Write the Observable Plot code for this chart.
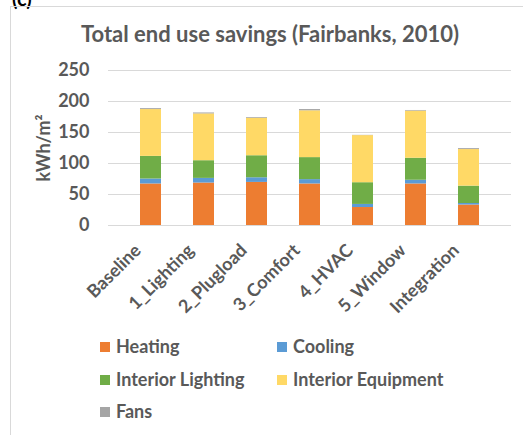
<!DOCTYPE html>
<html>
<head>
<meta charset="utf-8">
<script src="https://cdn.jsdelivr.net/npm/d3@7"></script>
<script src="https://cdn.jsdelivr.net/npm/@observablehq/plot@0.6"></script>
<style>
  html, body { margin: 0; padding: 0; background: #fff; width: 523px; height: 435px; overflow: hidden; }
  body { position: relative; font-family: Lato, "Open Sans", sans-serif; color: #595959; }
  #panel { position: absolute; left: 10px; top: 6px; width: 530px; height: 440px;
           border-left: 1px solid #d9d9d9; border-top: 1px solid #d9d9d9; box-sizing: border-box; }
  #tag { position: absolute; left: 12px; top: -14px; font-size: 20px; font-weight: bold; color: #000; }
  #title { position: absolute; left: 10px; width: 520px; top: 20px; text-align: center;
           font-size: 22px; font-weight: bold; white-space: nowrap; }
  #chart { position: absolute; left: 0; top: 50px; }
  .leg { position: absolute; font-size: 18px; font-weight: bold; white-space: nowrap; line-height: 20px; }
  .sw { display: inline-block; width: 10px; height: 10px; margin-right: 6px; vertical-align: 1px; }
</style>
</head>
<body>
<div id="tag">(c)</div>
<div id="panel"></div>
<div id="title">Total end use savings (Fairbanks, 2010)</div>
<div id="chart"></div>
<div id="legend"></div>
<script>
const categories = ["Baseline", "1_Lighting", "2_Plugload", "3_Comfort", "4_HVAC", "5_Window", "Integration"];
const series = ["Heating", "Cooling", "Interior Lighting", "Interior Equipment", "Fans"];
const colors = ["#ED7D31", "#5B9BD5", "#70AD47", "#FFD966", "#A5A5A5"];
const heating = [67, 68.5, 69.5, 67, 29, 67, 33];
const cooling = [8, 7.5, 7.5, 7, 5, 6, 2.5];
const interiorLighting = [36.5, 28.5, 35.5, 35.5, 35, 35.5, 28];
const interiorEquipment = [75.5, 75.5, 60.5, 75.5, 76, 76, 59];
const fans = [1.5, 1.5, 1.2, 2, 0.4, 1, 1.5];
const yTicks = [0, 50, 100, 150, 200, 250];

const valuesBySeries = [heating, cooling, interiorLighting, interiorEquipment, fans];
const data = [];
series.forEach((s, si) => categories.forEach((c, ci) => data.push({category: c, series: s, value: valuesBySeries[si][ci]})));

const plot = Plot.plot({
  width: 523,
  height: 280,
  marginTop: 20,
  marginBottom: 105,
  marginLeft: 108,
  marginRight: 12,
  style: {fontFamily: "Lato, sans-serif", fontSize: "18px", fontWeight: "bold", color: "#595959", background: "transparent"},
  x: {domain: categories, padding: 0.6},
  y: {domain: [0, 250]},
  color: {domain: series, range: colors},
  marks: [
    Plot.ruleY(yTicks, {stroke: "#d9d9d9", strokeWidth: 1}),
    Plot.barY(data, {x: "category", y: "value", fill: "series", order: series}),
    Plot.axisY({ticks: yTicks, tickSize: 0, tickPadding: 19, label: "kWh/m²", labelAnchor: "center", labelArrow: "none", labelOffset: 71, fill: "#595959", fontSize: "18px"}),
    Plot.axisX({tickSize: 0, tickPadding: 22, dx: -13, tickRotate: -45, label: null, fill: "#595959", fontSize: "18px"})
  ]
});
document.getElementById("chart").appendChild(plot);

const legend = document.getElementById("legend");
const legPos = [[100, 336], [277, 336], [100, 369], [277, 369], [100, 401]];
series.forEach((s, i) => {
  const d = document.createElement("div");
  d.className = "leg";
  d.style.left = legPos[i][0] + "px";
  d.style.top = legPos[i][1] + "px";
  d.innerHTML = `<span class="sw" style="background:${colors[i]}"></span>${s}`;
  legend.appendChild(d);
});
</script>
</body>
</html>
